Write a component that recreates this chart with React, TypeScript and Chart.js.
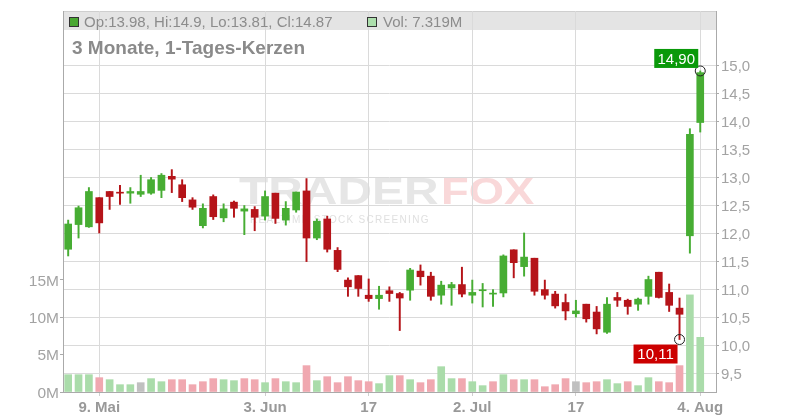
import React, { useEffect, useRef } from 'react';
import { Chart, registerables } from 'chart.js';

Chart.register(...registerables);

// Trading days (2025), one candle per day
const days = [
  '06.05', '07.05', '08.05', '09.05', '12.05', '13.05', '14.05', '15.05', '16.05', '19.05',
  '20.05', '21.05', '22.05', '23.05', '27.05', '28.05', '29.05', '30.05', '02.06', '03.06',
  '04.06', '05.06', '06.06', '09.06', '10.06', '11.06', '12.06', '13.06', '16.06', '17.06',
  '18.06', '20.06', '23.06', '24.06', '25.06', '26.06', '27.06', '30.06', '01.07', '02.07',
  '03.07', '07.07', '08.07', '09.07', '10.07', '11.07', '14.07', '15.07', '16.07', '17.07',
  '18.07', '21.07', '22.07', '23.07', '24.07', '25.07', '28.07', '29.07', '30.07', '31.07',
  '01.08', '04.08',
];
const opens = [
  11.72, 12.16, 12.12, 12.64, 12.75, 12.735, 12.72, 12.70, 12.72, 12.77,
  13.02, 12.87, 12.60, 12.14, 12.66, 12.28, 12.56, 12.40, 12.43, 12.31,
  12.72, 12.24, 12.42, 12.76, 11.92, 12.26, 11.70, 11.17, 11.25, 10.90,
  10.84, 10.98, 10.93, 10.99, 11.33, 11.24, 10.90, 11.03, 11.09, 10.90,
  10.98, 10.92, 10.94, 11.71, 11.41, 11.56, 11.00, 10.92, 10.77, 10.57,
  10.74, 10.60, 10.24, 10.86, 10.81, 10.74, 10.88, 11.31, 10.95, 10.67,
  11.96, 13.98,
];
const highs = [
  12.24, 12.49, 12.82, 12.64, 12.75, 12.86, 12.82, 13.04, 13.00, 13.07,
  13.14, 12.96, 12.64, 12.53, 12.69, 12.53, 12.58, 12.50, 12.48, 12.76,
  12.72, 12.57, 12.74, 12.98, 12.26, 12.31, 11.75, 11.21, 11.25, 11.19,
  11.06, 11.05, 10.95, 11.38, 11.44, 11.31, 11.15, 11.13, 11.40, 11.17,
  11.11, 11.00, 11.62, 11.71, 12.01, 11.56, 11.17, 10.97, 10.92, 10.81,
  10.74, 10.70, 10.86, 10.95, 10.83, 10.85, 11.24, 11.31, 11.10, 10.85,
  13.87, 14.9,
];
const lows = [
  11.60, 11.92, 12.11, 12.01, 12.43, 12.52, 12.54, 12.66, 12.70, 12.64,
  12.73, 12.57, 12.43, 12.10, 12.25, 12.21, 12.29, 11.98, 12.05, 12.24,
  12.18, 12.15, 12.38, 11.50, 11.89, 11.67, 11.32, 10.88, 10.88, 10.79,
  10.65, 10.79, 10.27, 10.81, 11.08, 10.81, 10.74, 10.72, 10.87, 10.76,
  10.69, 10.70, 10.87, 11.21, 11.24, 10.90, 10.83, 10.67, 10.46, 10.51,
  10.42, 10.21, 10.22, 10.70, 10.56, 10.63, 10.74, 10.85, 10.61, 10.11,
  11.65, 13.81,
];
const closes = [
  12.17, 12.46, 12.75, 12.19, 12.66, 12.72, 12.75, 12.75, 12.96, 13.04,
  12.97, 12.64, 12.47, 12.45, 12.30, 12.44, 12.45, 12.44, 12.29, 12.66,
  12.27, 12.45, 12.74, 11.92, 12.22, 11.72, 11.36, 11.05, 11.02, 10.84,
  10.90, 10.93, 10.85, 11.35, 11.23, 10.88, 11.08, 11.09, 10.92, 10.95,
  10.99, 10.93, 11.60, 11.48, 11.58, 10.97, 10.90, 10.71, 10.62, 10.62,
  10.48, 10.30, 10.74, 10.81, 10.70, 10.83, 11.18, 10.86, 10.72, 10.56,
  13.77, 14.87,
];
// volume in millions
const volumes = [
  2.32, 2.32, 2.32, 1.92, 1.65, 0.98, 0.98, 1.25, 1.79, 1.38,
  1.65, 1.65, 0.98, 1.38, 1.79, 1.65, 1.52, 1.79, 1.65, 1.25,
  1.79, 1.38, 1.25, 3.53, 1.52, 2.05, 1.25, 2.05, 1.52, 1.38,
  1.12, 2.19, 2.19, 1.65, 1.25, 1.65, 3.39, 1.79, 1.79, 1.38,
  0.85, 1.38, 2.32, 1.65, 1.65, 1.65, 0.71, 0.98, 1.79, 1.38,
  1.25, 1.38, 1.65, 1.12, 1.38, 0.85, 1.92, 1.38, 1.25, 3.53,
  13.0, 7.319,
];

const xTickIdx = [3, 19, 29, 39, 49, 61];
const xTickLabels = ['9. Mai', '3. Jun', '17', '2. Jul', '17', '4. Aug'];
const priceTicks = [9.5, 10, 10.5, 11, 11.5, 12, 12.5, 13, 13.5, 14, 14.5, 15];
const volTicks = [0, 5, 10, 15];

const titleText = '3 Monate, 1-Tages-Kerzen';

const GREEN = '#47ad33';
const RED = '#b51419';
const VOL_GREEN = '#aadcaa';
const VOL_RED = '#f0a8b0';
const VOL_GRAY = '#c0c0c0';
const FONT = "'Liberation Sans', Arial, sans-serif";

export default function App() {
  const ref = useRef<HTMLCanvasElement | null>(null);

  useEffect(() => {
    if (!ref.current) return;
    const n = days.length;
    const last = n - 1;
    const candleColors = opens.map((o, i) => (closes[i] >= o ? GREEN : RED));
    const volColors = volumes.map((_, i) => {
      if (i === 0) return VOL_GREEN;
      if (closes[i] > closes[i - 1]) return VOL_GREEN;
      if (closes[i] < closes[i - 1]) return VOL_RED;
      return VOL_GRAY;
    });
    let hiIdx = 0;
    let loIdx = 0;
    highs.forEach((h, i) => { if (h > highs[hiIdx]) hiIdx = i; });
    lows.forEach((l, i) => { if (l < lows[loIdx]) loIdx = i; });

    const backdrop = {
      id: 'backdrop',
      beforeDraw(chart: any) {
        const ctx = chart.ctx;
        const a = chart.chartArea;
        ctx.save();
        ctx.fillStyle = '#fff';
        ctx.fillRect(0, 0, chart.width, chart.height);
        // legend bar
        ctx.fillStyle = '#e4e4e4';
        ctx.fillRect(a.left, a.top, a.right - a.left, 19);
        ctx.strokeStyle = '#cfcfcf';
        ctx.lineWidth = 1;
        ctx.beginPath();
        ctx.moveTo(a.left, a.top + 0.5);
        ctx.lineTo(a.right, a.top + 0.5);
        ctx.stroke();
        // watermark
        ctx.font = `bold 36px ${FONT}`;
        ctx.textBaseline = 'alphabetic';
        ctx.fillStyle = '#e6e6e6';
        ctx.save();
        ctx.translate(239, 204);
        ctx.scale(1.33, 1);
        ctx.fillText('TRADER', 0, 0);
        ctx.restore();
        ctx.fillStyle = '#f9d8d9';
        ctx.save();
        ctx.translate(441, 204);
        ctx.scale(1.26, 1);
        ctx.fillText('FOX', 0, 0);
        ctx.restore();
        ctx.font = `10px ${FONT}`;
        ctx.fillStyle = '#e0e0e0';
        (ctx as any).letterSpacing = '1.3px';
        ctx.fillText('REALTIME STOCK SCREENING', 250, 223);
        (ctx as any).letterSpacing = '0px';
        ctx.restore();
      },
      afterDraw(chart: any) {
        const ctx = chart.ctx;
        const xs = chart.scales.x;
        const ys = chart.scales.y;
        ctx.save();
        // legend entries
        ctx.lineWidth = 1;
        ctx.fillStyle = '#4aa832';
        ctx.fillRect(69, 17, 10, 10);
        ctx.strokeStyle = '#333';
        ctx.strokeRect(69.5, 17.5, 9, 9);
        ctx.font = `15px ${FONT}`;
        ctx.fillStyle = '#8c8c8c';
        ctx.textBaseline = 'alphabetic';
        ctx.textAlign = 'left';
        ctx.fillText(
          `Op:${opens[last]}, Hi:${highs[last]}, Lo:${lows[last]}, Cl:${closes[last]}`,
          84,
          27
        );
        ctx.fillStyle = '#addfad';
        ctx.fillRect(367, 17, 10, 10);
        ctx.strokeRect(367.5, 17.5, 9, 9);
        ctx.fillStyle = '#8c8c8c';
        ctx.fillText(`Vol: ${volumes[last]}M`, 383, 27);
        // title
        ctx.font = `bold 19px ${FONT}`;
        ctx.fillStyle = '#8a8a8a';
        ctx.fillText(titleText, 72, 54);
        // high / low labels
        const drawBox = (idx: number, val: number, color: string, above: boolean) => {
          const px = xs.getPixelForValue(idx);
          const py = ys.getPixelForValue(val);
          const w = 44;
          const h = 19;
          const right = px - 2;
          const top = above ? py - 3 - h : py + 5;
          ctx.fillStyle = color;
          ctx.fillRect(right - w, top, w, h);
          ctx.fillStyle = '#fff';
          ctx.font = `15px ${FONT}`;
          ctx.textAlign = 'center';
          ctx.textBaseline = 'middle';
          ctx.fillText(val.toFixed(2).replace('.', ','), right - w / 2, top + h / 2 + 1);
        };
        drawBox(hiIdx, highs[hiIdx], '#0a990a', true);
        drawBox(loIdx, lows[loIdx], '#cc0000', false);
        ctx.restore();
      },
    };

    const chart = new Chart(ref.current, {
      type: 'bar',
      data: {
        datasets: [
          {
            type: 'scatter',
            data: [
              { x: hiIdx, y: highs[hiIdx] },
              { x: loIdx, y: lows[loIdx] },
            ],
            xAxisID: 'x',
            yAxisID: 'y',
            pointRadius: 5,
            borderColor: '#222',
            borderWidth: 1,
            backgroundColor: 'rgba(255,255,255,0)',
          } as any,
          {
            type: 'bar',
            data: days.map((_, i) => ({ x: i, y: [opens[i], closes[i]] })),
            xAxisID: 'x',
            yAxisID: 'y',
            backgroundColor: candleColors,
            barThickness: 7,
            minBarLength: 1,
            grouped: false,
          } as any,
          {
            type: 'bar',
            data: days.map((_, i) => ({ x: i, y: [lows[i], highs[i]] })),
            xAxisID: 'x',
            yAxisID: 'y',
            backgroundColor: candleColors,
            barThickness: 1.3,
            grouped: false,
          } as any,
          {
            type: 'bar',
            data: days.map((_, i) => ({ x: i, y: volumes[i] })),
            xAxisID: 'x',
            yAxisID: 'v',
            backgroundColor: volColors,
            barThickness: 7,
            grouped: false,
          } as any,
        ],
      },
      options: {
        responsive: false,
        animation: false,
        events: [],
        layout: { padding: { top: 11, left: 0, right: 0, bottom: 0 } },
        plugins: {
          legend: { display: false },
          title: { display: false },
          tooltip: { enabled: false },
        },
        scales: {
          x: {
            type: 'linear',
            offset: false,
            min: -0.5,
            max: 62.52,
            afterBuildTicks: (s: any) => {
              s.ticks = xTickIdx.map((v) => ({ value: v }));
            },
            afterFit: (s: any) => {
              s.height = 28;
            },
            ticks: {
              autoSkip: false,
              maxRotation: 0,
              padding: 3,
              color: '#999',
              font: { family: FONT, size: 15, weight: 'bold' },
              callback: (v: any) => {
                const k = xTickIdx.indexOf(Number(v));
                return k >= 0 ? xTickLabels[k] : '';
              },
            },
            grid: { offset: false, color: '#dadada', tickLength: 4, tickColor: '#cfcfcf' },
            border: { color: '#aaaaaa' },
          },
          y: {
            type: 'linear',
            position: 'right',
            min: 9.174,
            max: 15.969,
            afterBuildTicks: (s: any) => {
              s.ticks = priceTicks.map((v) => ({ value: v }));
            },
            afterFit: (s: any) => {
              s.width = 84;
            },
            ticks: {
              padding: 2,
              labelOffset: 1.5,
              color: '#a3a3a3',
              font: { family: FONT, size: 15 },
              callback: (v: any) => Number(v).toFixed(1).replace('.', ','),
            },
            grid: { color: '#dadada', tickLength: 3, tickColor: '#aaaaaa' },
            border: { color: '#aaaaaa' },
          },
          v: {
            type: 'linear',
            position: 'left',
            min: 0,
            max: 51.0,
            afterBuildTicks: (s: any) => {
              s.ticks = volTicks.map((v) => ({ value: v }));
            },
            afterFit: (s: any) => {
              s.width = 63;
            },
            ticks: {
              padding: 1,
              labelOffset: 1.5,
              color: '#a3a3a3',
              font: { family: FONT, size: 15.5 },
              callback: (v: any) => `${v}M`,
            },
            grid: { drawOnChartArea: false, tickLength: 3, tickColor: '#aaaaaa' },
            border: { color: '#aaaaaa' },
          },
        },
      } as any,
      plugins: [backdrop],
    });
    return () => chart.destroy();
  }, []);

  return (
    <div style={{ position: 'fixed', left: 0, top: 0, width: 800, height: 420, background: '#fff' }}>
      <canvas ref={ref} width={800} height={420} style={{ display: 'block' }} />
    </div>
  );
}
